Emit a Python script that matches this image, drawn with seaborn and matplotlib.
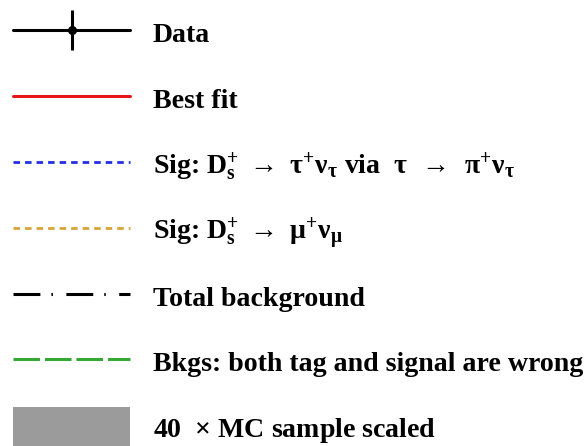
import matplotlib
matplotlib.use("Agg")
import matplotlib.pyplot as plt
import matplotlib.transforms as mtransforms
import seaborn as sns
from matplotlib.lines import Line2D
from matplotlib.patches import Patch, Rectangle
from matplotlib.container import ErrorbarContainer
from matplotlib.legend_handler import HandlerErrorbar, HandlerLine2D, HandlerPatch

# Legend entries (the figure is a legend only)
labels = [
    "Data",
    "Best fit",
    r"Sig: $D_s^{+}\;\rightarrow\ \tau^{+}\nu_\tau$ via  $\tau\;\,\rightarrow\;\,\pi^{+}\nu_\tau$",
    r"Sig: $D_s^{+}\;\rightarrow\ \mu^{+}\nu_\mu$",
    "Total background",
    "Bkgs: both tag and signal are wrong",
    r"40  $\times$ MC sample scaled",
]

sns.set_theme(style="white")
plt.rcParams["font.family"] = ["Liberation Serif", "DejaVu Serif"]
plt.rcParams["font.weight"] = "bold"
plt.rcParams["text.color"] = "black"
plt.rcParams["mathtext.fontset"] = "custom"
plt.rcParams["mathtext.default"] = "rm"
plt.rcParams["mathtext.rm"] = "Liberation Serif:bold"
plt.rcParams["mathtext.it"] = "Liberation Serif:bold"
plt.rcParams["mathtext.bf"] = "Liberation Serif:bold"


class ShiftMixin:
    # move the legend sample down a bit relative to the text row
    dy = 0.24

    def create_artists(self, legend, orig_handle, xdescent, ydescent,
                       width, height, fontsize, trans):
        trans = mtransforms.Affine2D().translate(0, -self.dy * fontsize) + trans
        return super().create_artists(legend, orig_handle, xdescent, ydescent,
                                      width, height, fontsize, trans)


class LowLine(ShiftMixin, HandlerLine2D):
    pass


class LowErr(ShiftMixin, HandlerErrorbar):
    pass


def mc_key(legend, orig_handle, xdescent, ydescent, width, height, fontsize):
    # tall grey box, runs off the bottom like in the original
    return Rectangle((-xdescent, -1.0 * fontsize), width, 2.08 * fontsize)


fig, ax = plt.subplots(figsize=(5.86, 4.46), dpi=100)
ax.set_axis_off()

data_h = ax.errorbar([], [], yerr=[], fmt="-o", color="black", ms=5.5,
                     lw=2.2, elinewidth=2.2, capsize=0)
fit_h = Line2D([], [], color="#e8161b", lw=2.2)
tau_h = Line2D([], [], color="#2230e0", lw=2.0, dashes=(2.35, 1.8))
mu_h = Line2D([], [], color="#d6a43a", lw=2.0, dashes=(2.35, 1.8))
bkg_h = Line2D([], [], color="black", lw=2.2, dashes=(8.8, 3.6, 0.5, 4.4))
wrong_h = Line2D([], [], color="#35a835", lw=2.2, dashes=(8.7, 1.6))
mc_h = Patch(facecolor="#9b9b9b", edgecolor="none")

handles = [data_h, fit_h, tau_h, mu_h, bkg_h, wrong_h, mc_h]

fs = 20.1
px = fs * 100 / 72
fig.legend(handles, labels, loc="upper left",
           bbox_to_anchor=(13 / 586, 1 - 5.0 / 446),
           frameon=False, fontsize=fs,
           handlelength=117 / px, handleheight=2.83,
           handletextpad=23 / px, labelspacing=0.272,
           borderpad=0, borderaxespad=0,
           handler_map={Line2D: LowLine(),
                        ErrorbarContainer: LowErr(yerr_size=0.72),
                        Patch: HandlerPatch(patch_func=mc_key)})

fig.savefig("out.png", dpi=100)
